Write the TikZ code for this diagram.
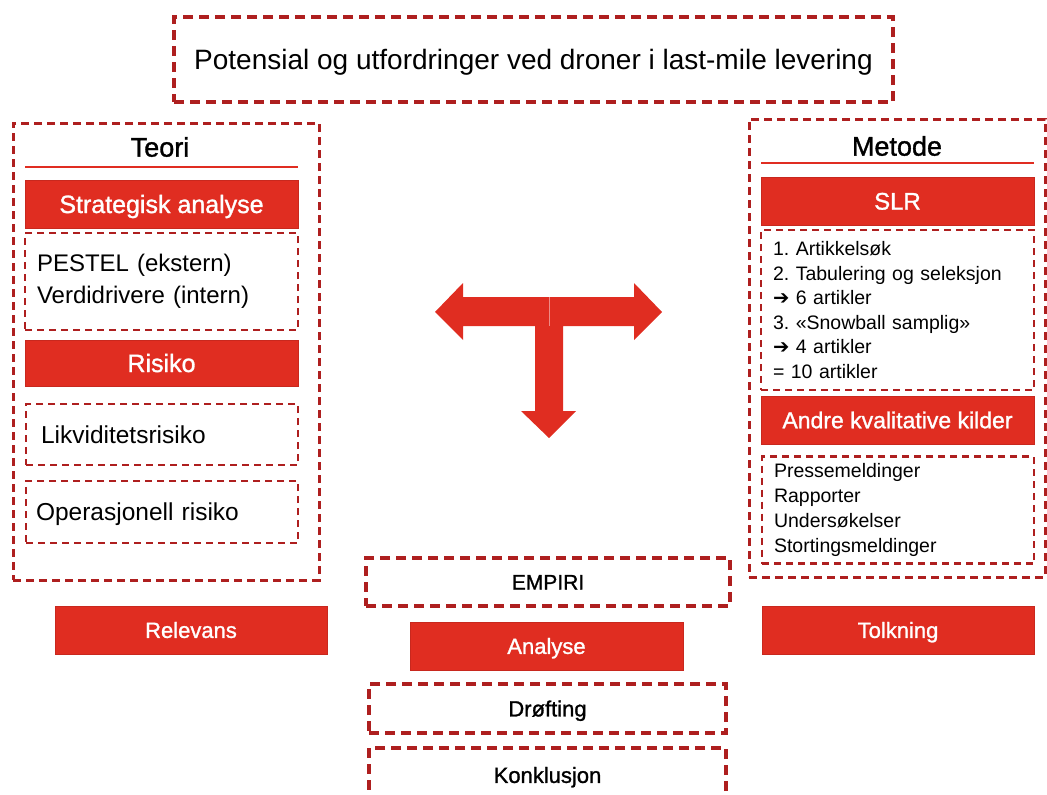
\documentclass[tikz,border=0pt]{standalone}
\usepackage{fontspec}
\setmainfont{Liberation Sans}
\newfontfamily\medfont[FakeBold=1.2]{Liberation Sans}
\newfontfamily\symfont{DejaVu Sans}
\definecolor{rod}{HTML}{E02D21}
\definecolor{rodkant}{HTML}{C8281E}
\definecolor{mork}{HTML}{AE1F1F}
\newcommand{\pil}{{\symfont\char"2794}}
\frenchspacing
\begin{document}
\begin{tikzpicture}[x=1pt,y=-1pt,
  oneline/.style={text height=#1,text depth=0pt},
  redbox/.style={oneline=18pt,draw=rodkant,line width=0.8pt,fill=rod,text=white,inner sep=0pt,minimum width=273pt,minimum height=48pt,font=\medfont\fontsize{25}{30}\selectfont},
  frame/.style={draw=mork,line width=3pt,dash pattern=on 8pt off 5pt,minimum width=300pt,minimum height=457pt},
  listbox/.style={draw=mork,line width=2.4pt,dash pattern=on 7pt off 5pt,minimum width=272pt,align=left,text width=248pt,inner xsep=12pt,inner ysep=0pt},
  thickbox/.style={oneline=15.8pt,draw=mork,line width=4pt,dash pattern=on 10pt off 6pt,inner sep=0pt,font=\medfont\fontsize{22}{26}\selectfont},
  heading/.style={font=\medfont\fontsize{27}{32}\selectfont}]
\useasboundingbox (0,0) rectangle (1047,795);
% tittel
\node[thickbox,oneline=20pt,minimum width=719pt,minimum height=85pt,font=\fontsize{28}{34}\selectfont] (title) at (533.5,59.5) {Potensial og utfordringer ved droner i last-mile levering};
% teori
\node[frame,minimum width=306pt] (teori) at (166,351.5) {};
\node[heading] (teorilabel) at (160,147) {Teori};
\coordinate (t1) at (25,167);
\coordinate (t2) at (298,167);
\draw[rod,line width=2pt] (t1) -- (t2);
\node[redbox] (strategi) at (161.5,204) {Strategisk analyse};
\node[listbox,minimum width=273pt,text width=249pt,minimum height=97pt,font=\fontsize{24}{32}\selectfont] (pestel) at (161.5,281.5) {PESTEL (ekstern)\\Verdidrivere (intern)};
\node[redbox,minimum height=46pt] (risiko) at (161.5,363) {Risiko};
\node[listbox,oneline=17.5pt,minimum height=61pt,inner xsep=15pt,text width=242pt,font=\fontsize{24.5}{28}\selectfont] (likvid) at (162,434.5) {Likviditetsrisiko};
\node[listbox,oneline=17.5pt,minimum height=62pt,inner xsep=10pt,text width=252pt,font=\fontsize{24.5}{28}\selectfont] (operasjonell) at (162,512) {Operasjonell risiko};
% metode
\node[frame,minimum width=296pt,minimum height=458pt] (metode) at (897,348) {};
\node[heading] (metodelabel) at (897,146) {Metode};
\coordinate (m1) at (761,163);
\coordinate (m2) at (1034,163);
\draw[rod,line width=2pt] (m1) -- (m2);
\node[redbox,oneline=17.2pt,font=\medfont\fontsize{24}{28}\selectfont] (slr) at (897.5,201) {SLR};
\node[listbox,minimum width=273pt,text width=249pt,minimum height=160pt,font=\fontsize{19.5}{24.6}\selectfont] (slrliste) at (897.5,310) {1. Artikkelsøk\\2. Tabulering og seleksjon\\\pil{} 6 artikler\\3. «Snowball samplig»\\\pil{} 4 artikler\\= 10 artikler};
\node[redbox,oneline=16.5pt,font=\medfont\fontsize{23}{28}\selectfont] (andre) at (897.5,420) {Andre kvalitative kilder};
\node[listbox,minimum height=107pt,font=\fontsize{19.5}{24.7}\selectfont] (kilder) at (898,510) {Pressemeldinger\\Rapporter\\Undersøkelser\\Stortingsmeldinger};
% pil
\fill[rod] (435,312) -- (463,283) -- (463,297) -- (634,297) -- (634,283) -- (662,312) -- (634,340) -- (634,326)
  -- (563,326) -- (563,411) -- (576,411) -- (549,438) -- (521,411) -- (535,411) -- (535,326)
  -- (463,326) -- (463,340) -- cycle;
\draw[rod!55!white,line width=0.6pt] (549,297) -- (549,326);
% bunn
\node[thickbox,oneline=15pt,minimum width=364pt,minimum height=48pt,font=\medfont\fontsize{21}{26}\selectfont] (empiri) at (548,582) {EMPIRI};
\node[redbox,oneline=15.8pt,font=\medfont\fontsize{22}{26}\selectfont] (analyse) at (546.5,646) {Analyse};
\node[thickbox,minimum width=357pt,minimum height=49pt] (drofting) at (547.5,708.5) {Drøfting};
\node[thickbox,minimum width=357pt,minimum height=54pt] (konklusjon) at (547.5,775) {Konklusjon};
\node[redbox,oneline=15.8pt,minimum width=272pt,font=\medfont\fontsize{22}{26}\selectfont] (relevans) at (191,630) {Relevans};
\node[redbox,oneline=15.8pt,minimum width=272pt,font=\medfont\fontsize{22}{26}\selectfont] (tolkning) at (898,630) {Tolkning};
\end{tikzpicture}
\end{document}
